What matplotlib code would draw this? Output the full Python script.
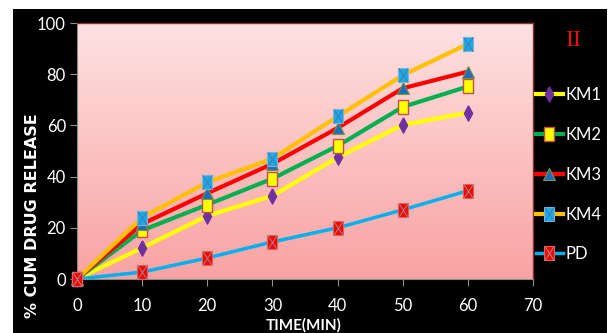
import matplotlib.pyplot as plt
import numpy as np
from matplotlib.patches import Rectangle
from matplotlib.path import Path

plt.rcParams['font.family'] = ['Lato', 'DejaVu Sans']

# release data (% cumulative drug release vs time in min)
time = [0, 10, 20, 30, 40, 50, 60]
km1 = [0, 12.2, 24.7, 32.5, 47.5, 60.2, 65.0]
km2 = [0, 19.0, 29.0, 39.2, 52.0, 67.2, 75.2]
km3 = [0, 21.5, 33.5, 45.0, 59.0, 74.5, 81.0]
km4 = [0, 24.0, 37.8, 47.0, 63.5, 79.6, 91.8]
pd_ = [0, 2.7, 8.2, 14.5, 20.0, 27.0, 34.5]
labels = ['KM1', 'KM2', 'KM3', 'KM4', 'PD']

# custom marker shapes
tall_rect = Path([(-0.33, -0.5), (0.33, -0.5), (0.33, 0.5), (-0.33, 0.5), (-0.33, -0.5)])
tall_diamond = Path([(0, 0.5), (0.27, 0), (0, -0.5), (-0.27, 0), (0, 0.5)])
cross = Path([(-0.33, -0.5), (0.33, 0.5), (-0.33, 0.5), (0.33, -0.5)],
             [Path.MOVETO, Path.LINETO, Path.MOVETO, Path.LINETO])

fig = plt.figure(figsize=(6.09, 3.33), dpi=100)
fig.patch.set_facecolor('white')
fig.patches.append(Rectangle((13 / 609, 0), 594 / 609, 324 / 333,
                             transform=fig.transFigure, facecolor='black',
                             edgecolor='none', zorder=-10))

ax = fig.add_axes([77 / 609, 54 / 333, 456 / 609, 256 / 333])
ax.set_facecolor('none')

# pink vertical gradient behind the plot area
top = np.array([254, 226, 226]) / 255
bot = np.array([249, 162, 162]) / 255
t = np.linspace(0, 1, 256)[:, None]
grad = (top * (1 - t) + bot * t)[:, None, :]
ax.imshow(grad, extent=[0, 1, 0, 1], transform=ax.transAxes, aspect='auto',
          zorder=-5)

series = [
    (km1, '#ffff00', dict(marker=tall_diamond, ms=11, mfc='#7030a0', mec='#7030a0')),
    (km2, '#00b050', dict(marker=tall_rect, ms=10, mfc='#ffff00', mec='#c0504d', mew=1)),
    (km3, '#ff0000', dict(marker='^', ms=8, mfc='#1f6fb8', mec='#7f8f3f', mew=0.8)),
    (km4, '#ffc000', dict(marker=tall_rect, ms=10, mfc='#1ea8e8', mec='#7fb0d8', mew=0.8)),
    (pd_, '#00b0f0', dict(marker=tall_rect, ms=10, mfc='#ff0000', mec='#e06060', mew=0.8)),
]

handles = []
for i, (vals, lc, mk) in enumerate(series):
    lw = 2.5 if i == 4 else 3
    ax.plot(time, vals, color=lc, lw=lw, zorder=2 + i * 0.1, clip_on=False)
    ax.plot(time, vals, color=lc, lw=lw, ls='none', zorder=4 + i * 0.1,
            clip_on=False, **mk)
    leg_line, = ax.plot([], [], color=lc, lw=lw, **mk)
    if i in (3, 4):
        xc = '#3a7fb0' if i == 3 else '#909090'
        ax.plot(time, vals, ls='none', marker=cross, ms=10, mfc='none', mec=xc,
                mew=0.7, zorder=4.05 + i * 0.1, clip_on=False)
        leg_x, = ax.plot([], [], ls='none', marker=cross, ms=10, mfc='none',
                         mec=xc, mew=0.7)
        handles.append((leg_line, leg_x))
    else:
        handles.append(leg_line)

ax.set_xlim(0, 70)
ax.set_ylim(0, 100)
ax.set_xticks(range(0, 71, 10))
ax.set_yticks(range(0, 101, 20))
ax.tick_params(axis='x', colors='#909090', labelcolor='white', direction='out',
               length=5, pad=9, labelsize=12)
ax.tick_params(axis='y', colors='#909090', labelcolor='white', direction='out',
               length=5, pad=3, labelsize=12)
for s in ('left', 'bottom'):
    ax.spines[s].set_color('#8a8a8a')
for s in ('top', 'right'):
    ax.spines[s].set_color('#8b3030')
    ax.spines[s].set_linewidth(1.0)

fig.text(33 / 609, 1 - 216 / 333, '% CUM DRUG RELEASE', rotation=90,
         color='white', fontsize=11.5, fontweight='bold', ha='center',
         va='center', family=['DejaVu Sans'])
fig.text(304 / 609, 1 - 325 / 333, 'TIME(MIN)', color='white', fontsize=11,
         fontweight='bold', ha='center', va='center')
fig.text(573 / 609, 1 - 40 / 333, 'II', color='#e81010', fontsize=17,
         ha='center', va='center', family=['Liberation Serif', 'DejaVu Serif'])

fig.legend(handles, labels, loc='upper left',
           bbox_to_anchor=(536 / 609, 1 - 87 / 333), frameon=False,
           fontsize=12, labelcolor='white', labelspacing=1.43,
           handlelength=1.6, handletextpad=0.15, borderaxespad=0,
           borderpad=0)

fig.savefig('out.png', dpi=100, facecolor='white')
